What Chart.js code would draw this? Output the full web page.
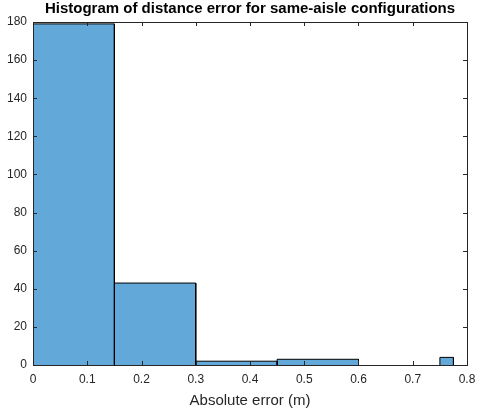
<!DOCTYPE html>
<html>
<head>
<meta charset="utf-8">
<script src="https://cdn.jsdelivr.net/npm/chart.js@4"></script>
<style>
  html, body { margin: 0; padding: 0; background: #fff; }
  #wrap { width: 477px; height: 416px; }
</style>
</head>
<body>
<div id="wrap"><canvas id="histChart" width="477" height="416"></canvas></div>
<script>
// bin edges and counts
const binEdges = [0, 0.15, 0.3, 0.45, 0.6, 0.75, 0.775];
const binCounts = [179, 43, 2, 3, 0, 4];
const xTicks = [0, 0.1, 0.2, 0.3, 0.4, 0.5, 0.6, 0.7, 0.8];
const yTicks = [0, 20, 40, 60, 80, 100, 120, 140, 160, 180];

const barFill = "rgb(98, 168, 216)";
const axisColor = "#262626";
const fontFamily = "'Liberation Sans', Arial, Helvetica, sans-serif";

// one filled outline per bin (variable widths)
const datasets = [];
for (let i = 0; i < binCounts.length; i++) {
  if (binCounts[i] === 0) continue;
  const x0 = binEdges[i], x1 = binEdges[i + 1], c = binCounts[i];
  datasets.push({
    label: "bin " + i,
    data: [
      { x: x0, y: 0 },
      { x: x0, y: c },
      { x: x1, y: c },
      { x: x1, y: 0 },
    ],
    showLine: true,
    fill: "origin",
    backgroundColor: barFill,
    borderColor: "#000",
    borderWidth: 1,
    pointRadius: 0,
    tension: 0,
  });
}

// MATLAB style box with inward ticks on all four sides
const boxTicks = {
  id: "boxTicks",
  afterDraw(chart) {
    const { ctx, chartArea: a, scales } = chart;
    const len = 4;
    ctx.save();
    ctx.strokeStyle = axisColor;
    ctx.lineWidth = 1;
    ctx.beginPath();
    xTicks.forEach((v) => {
      const px = Math.round(scales.x.getPixelForValue(v)) + 0.5;
      ctx.moveTo(px, a.bottom);
      ctx.lineTo(px, a.bottom - len);
      ctx.moveTo(px, a.top);
      ctx.lineTo(px, a.top + len);
    });
    yTicks.forEach((v) => {
      const py = Math.round(scales.y.getPixelForValue(v)) + 0.5;
      ctx.moveTo(a.left, py);
      ctx.lineTo(a.left + len, py);
      ctx.moveTo(a.right, py);
      ctx.lineTo(a.right - len, py);
    });
    ctx.stroke();
    ctx.strokeRect(Math.round(a.left) + 0.5, Math.round(a.top) + 0.5,
      Math.round(a.right - a.left), Math.round(a.bottom - a.top));
    ctx.restore();
  },
};

const ctx = document.getElementById("histChart").getContext("2d");
const histChart = new Chart(ctx, {
  type: "scatter",
  data: { datasets: datasets },
  options: {
    responsive: false,
    animation: false,
    layout: { padding: { left: 0, right: 10, top: 0, bottom: 0 } },
    scales: {
      x: {
        type: "linear",
        min: 0,
        max: 0.8,
        afterBuildTicks: (s) => { s.ticks = xTicks.map((v) => ({ value: v })); },
        afterFit: (s) => {
          s.height = 51;
          s.paddingLeft = 0;
          s.paddingRight = 0;
        },
        grid: { display: false, drawTicks: false },
        border: { display: false },
        ticks: {
          color: axisColor,
          padding: 7,
          maxRotation: 0,
          font: { family: fontFamily, size: 12 },
          callback: (v) => String(Math.round(v * 10) / 10),
        },
        title: {
          display: true,
          text: "Absolute error (m)",
          color: axisColor,
          font: { family: fontFamily, size: 15 },
          padding: { top: 0, bottom: 6 },
        },
      },
      y: {
        type: "linear",
        min: 0,
        max: 180,
        afterBuildTicks: (s) => { s.ticks = yTicks.map((v) => ({ value: v })); },
        afterFit: (s) => {
          s.width = 33;
          s.paddingTop = 0;
          s.paddingBottom = 0;
        },
        grid: { display: false, drawTicks: false },
        border: { display: false },
        ticks: {
          color: axisColor,
          padding: 6,
          font: { family: fontFamily, size: 12 },
        },
      },
    },
    plugins: {
      legend: { display: false },
      tooltip: { enabled: false },
      title: {
        display: true,
        fullSize: false,
        text: "Histogram of distance error for same-aisle configurations",
        color: "#000",
        font: { family: fontFamily, size: 15, weight: "bold" },
        padding: { top: 0, bottom: 4 },
      },
    },
  },
  plugins: [boxTicks],
});
</script>
</body>
</html>
